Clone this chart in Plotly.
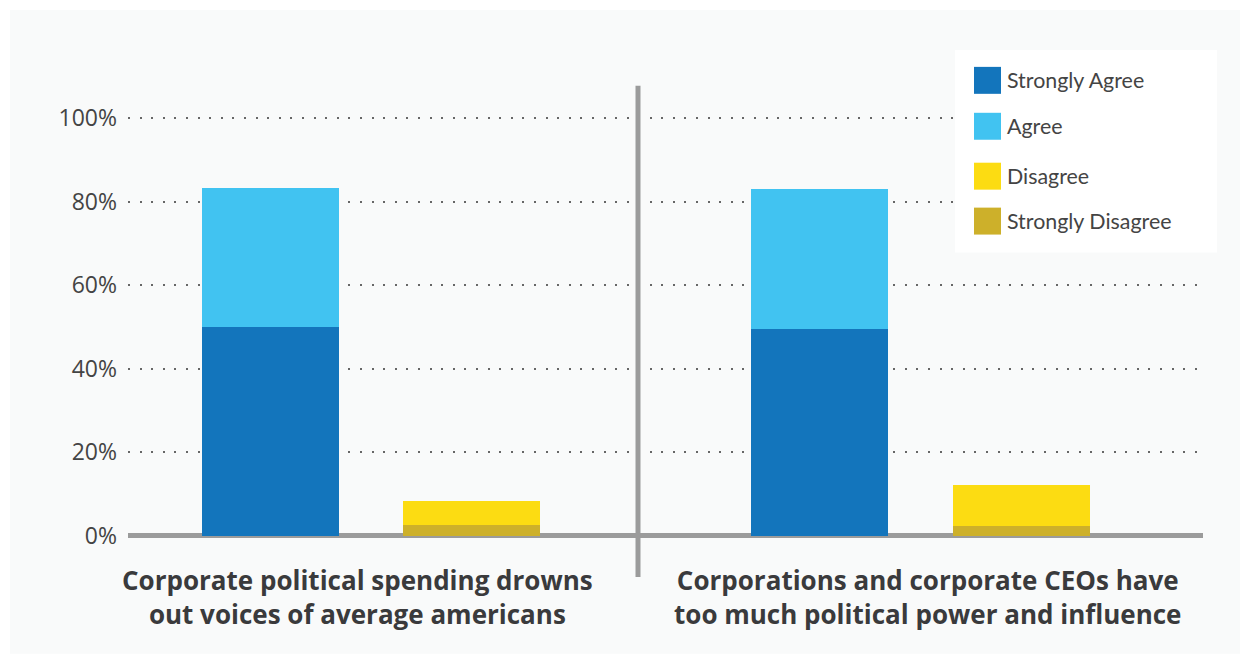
import plotly.graph_objects as go

# ---------------- data ----------------
groups = [
    "Corporate political spending drowns<br>out voices of average americans",
    "Corporations and corporate CEOs have<br>too much political power and influence",
]
stacks = ["agree", "disagree"]
strongly_agree = [50.0, 49.6]
agree = [33.3, 33.5]
strongly_disagree = [2.5, 2.3]
disagree = [5.8, 9.8]
series_names = ["Strongly Agree", "Agree", "Disagree", "Strongly Disagree"]
y_ticks = [0, 20, 40, 60, 80, 100]
y_tick_labels = ["0%", "20%", "40%", "60%", "80%", "100%"]

# ---------------- style ----------------
W, H = 1250, 663
H_EFF = 657.2  # effective rendered height used for paper-coordinate placement
colors = {
    "Strongly Agree": "#1375bc",
    "Agree": "#41c3f1",
    "Disagree": "#fcdc12",
    "Strongly Disagree": "#cdb02a",
}
grey = "#9b9b9b"
text_col = "#444444"


def px(x):
    return x / W


def py(y):
    return 1 - y / H_EFF


fig = go.Figure()

series_data = {
    "Strongly Agree": (strongly_agree, "agree"),
    "Agree": (agree, "agree"),
    "Strongly Disagree": (strongly_disagree, "disagree"),
    "Disagree": (disagree, "disagree"),
}
draw_order = ["Strongly Agree", "Agree", "Strongly Disagree", "Disagree"]

for gi in range(len(groups)):
    xa = "x" if gi == 0 else "x2"
    ya = "y" if gi == 0 else "y2"
    for name in draw_order:
        vals, stack = series_data[name]
        fig.add_trace(go.Bar(
            x=[stack], y=[vals[gi]], name=name, xaxis=xa, yaxis=ya,
            marker=dict(color=colors[name], line=dict(width=0)),
            width=0.68, showlegend=False, hoverinfo="skip",
        ))

y_dom = [py(545.1), py(97.4)]
yaxis_common = dict(
    domain=y_dom, range=[-2, 105], tickmode="array", tickvals=y_ticks,
    showgrid=True, gridcolor="#666666", gridwidth=2, griddash="2px,9.6px",
    zeroline=True, zerolinecolor=grey, zerolinewidth=5,
    showline=False, fixedrange=True,
)
xaxis_common = dict(
    type="category", categoryorder="array", categoryarray=stacks,
    showticklabels=False, showgrid=False, zeroline=False, showline=False,
    fixedrange=True,
)

fig.update_layout(
    width=W, height=H,
    margin=dict(l=0, r=0, t=0, b=0),
    paper_bgcolor="white", plot_bgcolor="rgba(0,0,0,0)",
    barmode="stack", bargap=0.32, showlegend=False,
    xaxis=dict(xaxis_common, domain=[px(128), px(638)], range=[-0.709, 1.828], anchor="y"),
    xaxis2=dict(xaxis_common, domain=[px(638), px(1203)], range=[-0.8985, 1.898], anchor="y2"),
    yaxis=dict(yaxis_common, anchor="x", ticktext=y_tick_labels, showticklabels=True,
               ticks="", ticklabelstandoff=10,
               tickfont=dict(family="Open Sans", size=23, color=text_col)),
    yaxis2=dict(yaxis_common, anchor="x2", matches="y", showticklabels=False),
)

shapes = []
# light panel background
shapes.append(dict(type="rect", xref="paper", yref="paper",
                   x0=px(10), x1=px(1240), y0=py(655), y1=py(10),
                   fillcolor="#f9fafa", line=dict(width=0), layer="below"))
# vertical separator
shapes.append(dict(type="line", xref="paper", yref="paper",
                   x0=px(638), x1=px(638), y0=py(578), y1=py(86),
                   line=dict(color=grey, width=5), layer="above"))
# legend box
shapes.append(dict(type="rect", xref="paper", yref="paper",
                   x0=px(955), x1=px(1217), y0=py(253), y1=py(50),
                   fillcolor="white", line=dict(width=0), layer="above"))

annotations = []
leg_y = [80.5, 126.5, 176.5, 221.5]
for name, cy in zip(series_names, leg_y):
    shapes.append(dict(type="rect", xref="paper", yref="paper",
                       x0=px(974), x1=px(1001), y0=py(cy + 13.5), y1=py(cy - 13.5),
                       fillcolor=colors[name], line=dict(width=0), layer="above"))
    annotations.append(dict(text=name, xref="paper", yref="paper",
                            x=px(1005), y=py(cy), xanchor="left", yanchor="middle",
                            showarrow=False,
                            font=dict(family="Lato", size=21.4, color=text_col)))

group_x = [357, 928]
for g, gx in zip(groups, group_x):
    annotations.append(dict(text=g, xref="paper", yref="paper",
                            x=px(gx), y=py(598), xanchor="center", yanchor="middle",
                            showarrow=False, align="center",
                            font=dict(family="Open Sans", size=26, color="#3a3a3c",
                                      weight=700)))

fig.update_layout(shapes=shapes, annotations=annotations)

fig.write_html("out.html")
